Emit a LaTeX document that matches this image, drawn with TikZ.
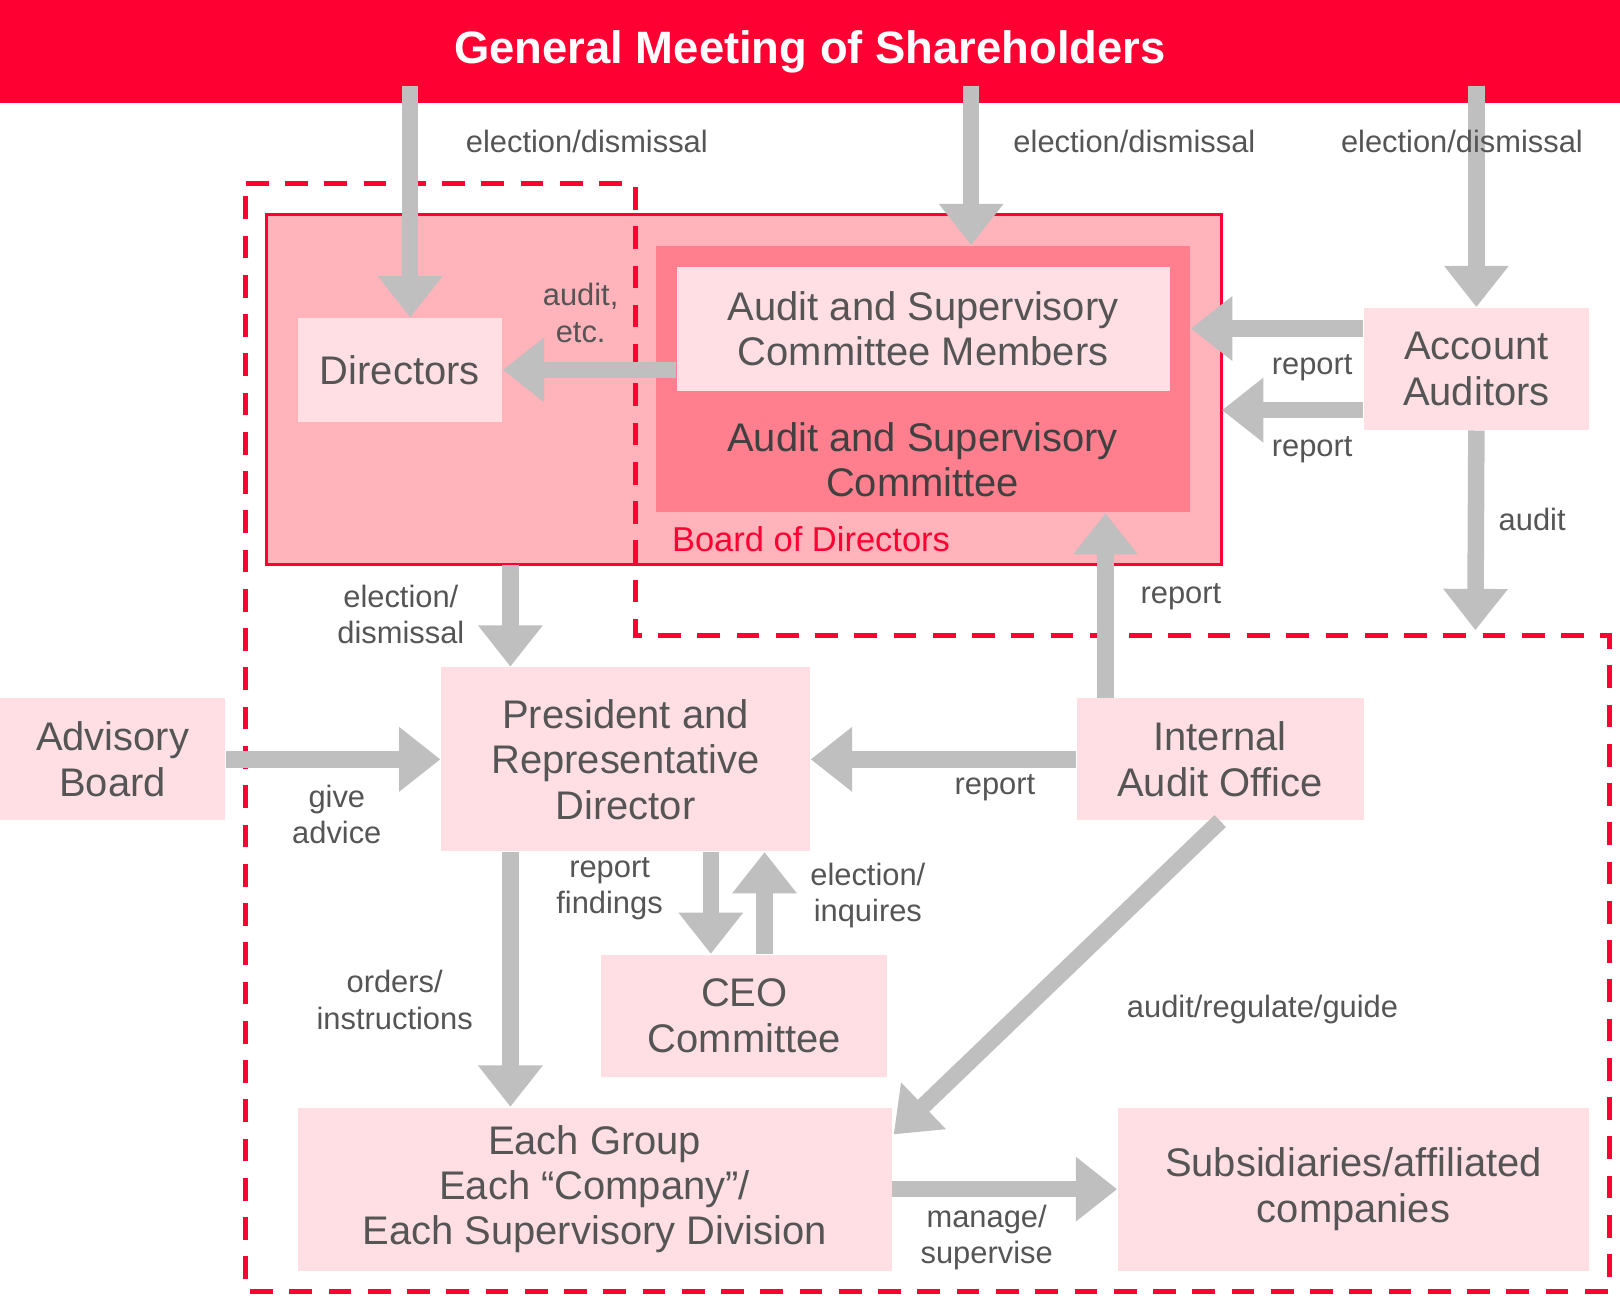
\documentclass[tikz,border=0pt]{standalone}
\usepackage{fontspec}
\setmainfont{Liberation Sans}
\usetikzlibrary{arrows.meta}
\definecolor{mainred}{HTML}{FF0033}
\definecolor{boxpink}{HTML}{FFDFE4}
\definecolor{boardpink}{HTML}{FFB3BA}
\definecolor{ascpink}{HTML}{FF7F8E}
\definecolor{arrowgray}{HTML}{BFBFBF}
\definecolor{textgray}{HTML}{555555}
\tikzset{
  box/.style={fill=boxpink, text=textgray, align=center, inner sep=0pt,
    font=\fontsize{11}{12.5}\selectfont},
  garrow/.style={draw=arrowgray, line width=1.6mm,
    -{Triangle[length=4mm,width=6mm]}},
  lbl/.style={text=textgray, align=center, font=\fontsize{8.5}{10}\selectfont}
}
\begin{document}
\begin{tikzpicture}[x=0.1mm, y=-0.1mm]
  \useasboundingbox (0,0) rectangle (1568,1270);

  % title
  \fill [mainred] (0,0) rectangle (1568,100);
  \node (title) at (784,50) [text=white, font=\fontsize{12.5}{14}\selectfont\bfseries]
    {General Meeting of Shareholders};

  % board of directors
  \draw [draw=mainred, line width=0.3mm, fill=boardpink] (258,208) rectangle (1182,546);
  \node (board) at (720,377) [minimum width=92.4mm, minimum height=33.8mm] {};
  \node [text=mainred, font=\fontsize{9.5}{11}\selectfont] at (785,522) {Board of Directors};
  \fill [ascpink] (635,238) rectangle (1152,496);
  \node (asc) at (893.5,367) [minimum width=51.7mm, minimum height=25.8mm] {};
  \node [text=black!75, align=center, font=\fontsize{11}{12.5}\selectfont] at (893,445)
    {Audit and Supervisory\\Committee};

  % boxes
  \node [box, minimum width=47.7mm, minimum height=12mm] (ascm) at (893.5,318)
    {Audit and Supervisory\\Committee Members};
  \node [box, minimum width=19.8mm, minimum height=10mm] (dir) at (387,358) {Directors};
  \node [box, minimum width=21.8mm, minimum height=11.8mm] (acc) at (1429,357) {Account\\Auditors};
  \node [box, minimum width=21.8mm, minimum height=11.8mm] (adv) at (109,735) {Advisory\\Board};
  \node [box, minimum width=35.7mm, minimum height=17.8mm] (pres) at (605.5,735)
    {President and\\Representative\\Director};
  \node [box, minimum width=27.8mm, minimum height=11.8mm] (iao) at (1181,735) {Internal\\Audit Office};
  \node [box, minimum width=27.7mm, minimum height=11.8mm] (ceo) at (720.5,983) {CEO\\Committee};
  \node [box, minimum width=57.5mm, minimum height=15.8mm] (grp) at (575.5,1151)
    {Each Group\\Each “Company”/\\Each Supervisory Division};
  \node [box, minimum width=45.6mm, minimum height=15.8mm] (sub) at (1310,1151)
    {Subsidiaries/affiliated\\companies};

  % dashed outline
  \draw [mainred, line width=0.5mm, dash pattern=on 2.2mm off 1.6mm]
    (238,178) -- (615,178) -- (615,615) -- (1558,615) -- (1558,1250) -- (238,1250) -- cycle;

  % arrows
  \coordinate (a1) at (1428,610);
  \draw [garrow] (title.south -| 397,0) -- (dir.north -| 397,0);
  \draw [garrow] (title.south -| 940,0) -- (asc.north -| 940,0);
  \draw [garrow] (title.south -| acc) -- (acc.north);
  \draw [garrow] (acc.west |- 0,318) -- (asc.east |- 0,318);
  \draw [garrow] (acc.west |- 0,397) -- (board.east |- 0,397);
  \draw [garrow] (ascm.west |- 0,358) -- (dir.east);
  \draw [garrow] (acc.south) -- (a1);
  \draw [garrow] (board.south -| 494,0) -- (pres.north -| 494,0);
  \draw [garrow] (iao.north -| 1070,0) -- (asc.south -| 1070,0);
  \draw [garrow] (iao.west) -- (pres.east);
  \draw [garrow] (adv.east) -- (pres.west);
  \draw [garrow] (pres.south -| 494,0) -- (grp.north -| 494,0);
  \draw [garrow] (pres.south -| 688,0) -- (ceo.north -| 688,0);
  \draw [garrow] (ceo.north -| 740,0) -- (pres.south -| 740,0);
  \draw [garrow] (iao.south) -- (865,1098);
  \draw [garrow] (grp.east) -- (sub.west);

  % labels
  \node [lbl] at (568,137) {election/dismissal};
  \node [lbl] at (1098,137) {election/dismissal};
  \node [lbl] at (1415,137) {election/dismissal};
  \node [lbl] at (1270,356) {report};
  \node [lbl] at (1270,435) {report};
  \node [lbl] at (562,303) {audit,\\etc.};
  \node [lbl] at (1483,503) {audit};
  \node [lbl] at (388,595) {election/\\dismissal};
  \node [lbl] at (1143,578) {report};
  \node [lbl] at (963,762) {report};
  \node [lbl] at (326,788) {give\\advice};
  \node [lbl] at (382,968) {orders/\\instructions};
  \node [lbl] at (590,860) {report\\findings};
  \node [lbl] at (840,867) {election/\\inquires};
  \node [lbl] at (1222,977) {audit/regulate/guide};
  \node [lbl] at (955,1198) {manage/\\supervise};
\end{tikzpicture}
\end{document}
